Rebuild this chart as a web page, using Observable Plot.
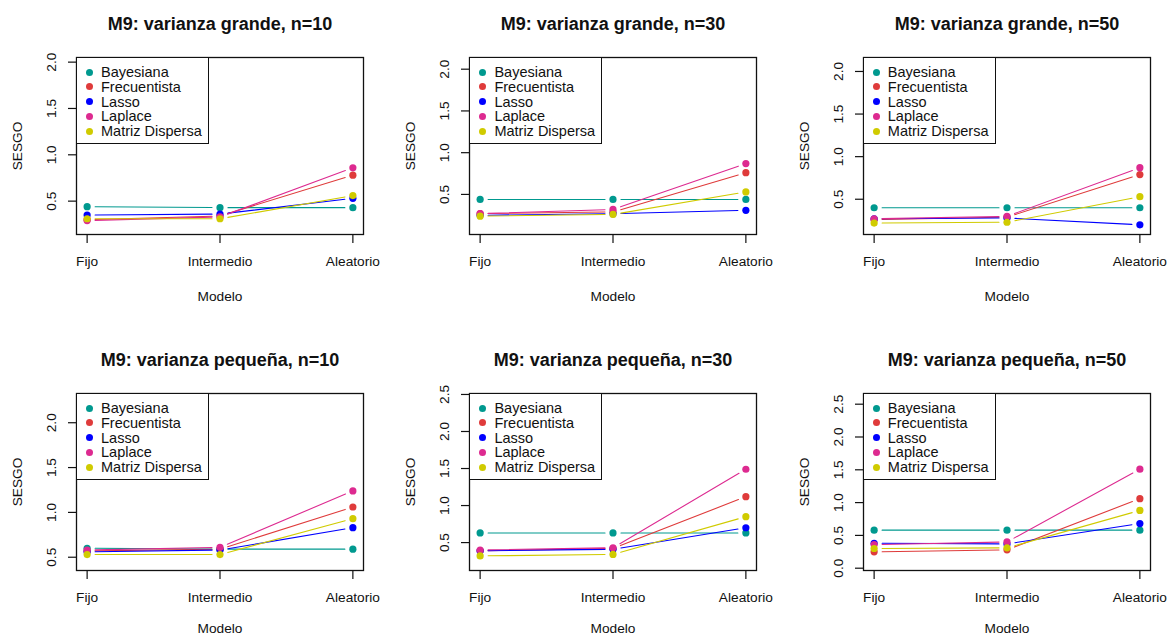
<!DOCTYPE html>
<html>
<head>
<meta charset="utf-8">
<script src="https://cdn.jsdelivr.net/npm/d3@7"></script>
<script src="https://cdn.jsdelivr.net/npm/@observablehq/plot@0.6"></script>
<style>
  html, body { margin: 0; padding: 0; background: #fff; }
  #root { position: relative; width: 1167px; height: 637px; overflow: hidden; background: #fff;
          font-family: "Liberation Sans", Arial, sans-serif; }
  .panel { position: absolute; width: 393px; height: 336px; }
  .panel svg { position: absolute; left: 0; top: 0; overflow: visible; }
  .legend { position: absolute; left: 76px; top: 57px; width: 133px; height: 87px;
            border: 1.2px solid #111; box-sizing: border-box; background: #fff; }
  .legend .row { position: absolute; left: 0; height: 16px; line-height: 16px; font-size: 14.5px; color: #111; white-space: nowrap; }
  .legend .dot { position: absolute; left: 9px; top: 4.5px; width: 7px; height: 7px; border-radius: 50%; }
  .legend .lab { position: absolute; left: 24px; top: 0; }
</style>
</head>
<body>
<div id="root"></div>
<script>
// ---- data ----
const modelos = ["Fijo", "Intermedio", "Aleatorio"];
const metodos = ["Bayesiana", "Frecuentista", "Lasso", "Laplace", "Matriz Dispersa"];
const colores = ["#00998F", "#DF3B3B", "#0000FF", "#DD2A90", "#D0CB00"];

const titulos = [
  "M9: varianza grande, n=10", "M9: varianza grande, n=30", "M9: varianza grande, n=50",
  "M9: varianza pequeña, n=10", "M9: varianza pequeña, n=30", "M9: varianza pequeña, n=50"
];

// rows: Bayesiana, Frecuentista, Lasso, Laplace, Matriz Dispersa ; cols: Fijo, Intermedio, Aleatorio
const grande_n10 = [[0.44, 0.43, 0.43], [0.30, 0.34, 0.78], [0.35, 0.36, 0.53], [0.29, 0.33, 0.86], [0.31, 0.31, 0.56]];
const grande_n30 = [[0.44, 0.44, 0.44], [0.27, 0.29, 0.76], [0.25, 0.27, 0.31], [0.27, 0.32, 0.87], [0.24, 0.26, 0.53]];
const grande_n50 = [[0.40, 0.40, 0.40], [0.26, 0.29, 0.79], [0.27, 0.28, 0.20], [0.27, 0.30, 0.87], [0.22, 0.23, 0.53]];
const pequena_n10 = [[0.60, 0.59, 0.59], [0.57, 0.59, 1.06], [0.56, 0.58, 0.83], [0.58, 0.61, 1.24], [0.53, 0.53, 0.93]];
const pequena_n30 = [[0.63, 0.63, 0.63], [0.39, 0.42, 1.12], [0.39, 0.41, 0.70], [0.40, 0.43, 1.49], [0.32, 0.34, 0.85]];
const pequena_n50 = [[0.58, 0.58, 0.58], [0.25, 0.28, 1.06], [0.38, 0.37, 0.68], [0.36, 0.40, 1.51], [0.30, 0.31, 0.88]];

const yDominios = [[0.14, 2.05], [0.02, 2.14], [0.086, 2.164], [0.352, 2.326], [0.123, 2.513], [-0.035, 2.663]];
const yTicks = [
  [0.5, 1.0, 1.5, 2.0], [0.5, 1.0, 1.5, 2.0], [0.5, 1.0, 1.5, 2.0],
  [0.5, 1.0, 1.5, 2.0], [0.5, 1.0, 1.5, 2.0, 2.5], [0.0, 0.5, 1.0, 1.5, 2.0, 2.5]
];
const paneles = [grande_n10, grande_n30, grande_n50, pequena_n10, pequena_n30, pequena_n50];

// ---- drawing ----
const root = document.getElementById("root");
const FONT = "'Liberation Sans', Arial, sans-serif";

paneles.forEach((valores, p) => {
  const col = p % 3, row = Math.floor(p / 3);
  const puntos = [];
  const segmentos = [];
  valores.forEach((serie, s) => {
    serie.forEach((v, i) => puntos.push({metodo: metodos[s], x: i + 1, y: v}));
    for (let i = 0; i < serie.length - 1; i++) {
      segmentos.push({metodo: metodos[s], x1: i + 1, y1: serie[i], x2: i + 2, y2: serie[i + 1]});
    }
  });

  const chart = Plot.plot({
    width: 393,
    height: 336,
    marginLeft: 76,
    marginRight: 30,
    marginTop: 57,
    marginBottom: 102,
    style: {fontFamily: FONT, fontSize: "13.7px", color: "#111", background: "transparent"},
    x: {domain: [0.92, 3.08]},
    y: {domain: yDominios[p]},
    color: {domain: metodos, range: colores},
    marks: [
      Plot.arrow(segmentos, {x1: "x1", y1: "y1", x2: "x2", y2: "y2", stroke: "metodo",
        headLength: 0, inset: 8, strokeWidth: 1.1}),
      Plot.dot(puntos, {x: "x", y: "y", fill: "metodo", r: 3.6, stroke: null}),
      Plot.frame({stroke: "#111", strokeWidth: 1.3}),
      Plot.axisX({ticks: [1, 2, 3], tickFormat: (d) => modelos[d - 1], tickSize: 9, tickPadding: 13,
        label: null, fontSize: 13.7, stroke: "#111", strokeWidth: 1.2}),
      Plot.axisY({ticks: yTicks[p], tickFormat: d3.format(".1f"), tickSize: 8, tickRotate: -90,
        tickPadding: 13, label: null, fontSize: 13.7, stroke: "#111", strokeWidth: 1.2}),
      Plot.text([titulos[p]], {frameAnchor: "top", lineAnchor: "middle", textAnchor: "middle", dy: -33,
        fontSize: 18, fontWeight: "bold", fill: "#111"}),
      Plot.text(["Modelo"], {frameAnchor: "bottom", lineAnchor: "middle", textAnchor: "middle",
        dy: row === 0 ? 62 : 58, fontSize: 13.7, fill: "#111"}),
      Plot.text(["SESGO"], {frameAnchor: "left", lineAnchor: "middle", textAnchor: "middle", dx: -59,
        rotate: -90, fontSize: 13.7, fill: "#111"})
    ]
  });

  const panel = document.createElement("div");
  panel.className = "panel";
  panel.style.left = (col * 393.4) + "px";
  panel.style.top = (row * 336) + "px";
  panel.appendChild(chart);

  const leg = document.createElement("div");
  leg.className = "legend";
  metodos.forEach((m, i) => {
    const r = document.createElement("div");
    r.className = "row";
    r.style.top = (6 + i * 14.8) + "px";
    const d = document.createElement("span");
    d.className = "dot";
    d.style.background = colores[i];
    const t = document.createElement("span");
    t.className = "lab";
    t.textContent = m;
    r.appendChild(d);
    r.appendChild(t);
    leg.appendChild(r);
  });
  panel.appendChild(leg);
  root.appendChild(panel);
});
</script>
</body>
</html>
